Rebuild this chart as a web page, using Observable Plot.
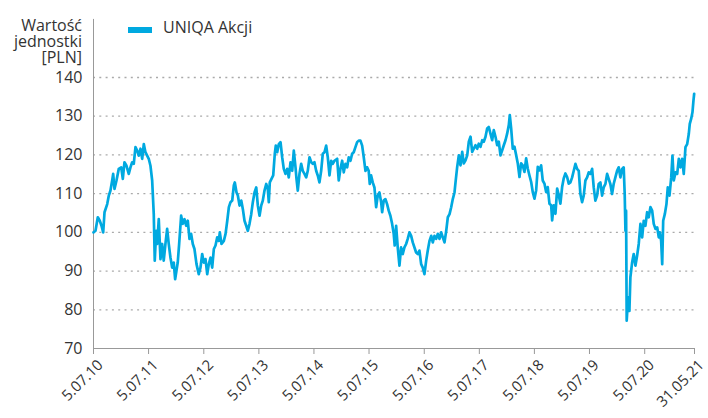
<!DOCTYPE html>
<html><head><meta charset="utf-8">
<script src="https://cdn.jsdelivr.net/npm/d3@7"></script>
<script src="https://cdn.jsdelivr.net/npm/@observablehq/plot@0.6"></script>
<style>
body{margin:0;background:#fff;font-family:"Open Sans",sans-serif;}
#wrap{position:relative;width:708px;height:418px;overflow:hidden;}
#ytitle{position:absolute;right:626px;top:17px;text-align:right;font-size:16px;line-height:16px;color:#333;white-space:nowrap;}
#legsw{position:absolute;left:128px;top:27px;width:24px;height:6px;background:#00a9e0;}
#legtx{position:absolute;left:163px;top:19px;font-size:16px;line-height:16px;color:#333;white-space:nowrap;}
</style></head><body>
<div id="wrap"><div id="chart"></div><div id="ytitle"></div><div id="legsw"></div><div id="legtx"></div></div>
<script>
const seriesName = "UNIQA Akcji";
const yTitleLines = ["Wartość", "jednostki", "[PLN]"];
const lineColor = "#00a9e0";

// decimal years
const years = [
2010.507,2010.543,2010.585,2010.621,2010.652,2010.683,2010.707,2010.756,2010.785,2010.815,
2010.846,2010.864,2010.888,2010.924,2010.966,2011.010,2011.039,2011.069,2011.106,2011.147,
2011.178,2011.209,2011.238,2011.269,2011.300,2011.329,2011.360,2011.391,2011.420,2011.450,
2011.481,2011.510,2011.541,2011.572,2011.601,2011.619,2011.645,2011.663,2011.692,2011.723,
2011.753,2011.782,2011.813,2011.844,2011.873,2011.904,2011.935,2011.964,2011.989,2012.013,
2012.036,2012.062,2012.098,2012.127,2012.158,2012.189,2012.218,2012.249,2012.279,2012.309,
2012.339,2012.376,2012.417,2012.448,2012.479,2012.508,2012.539,2012.570,2012.599,2012.630,
2012.660,2012.690,2012.720,2012.751,2012.780,2012.798,2012.829,2012.871,2012.902,2012.933,
2012.962,2012.992,2013.023,2013.052,2013.070,2013.101,2013.125,2013.156,2013.187,2013.216,
2013.246,2013.277,2013.306,2013.337,2013.368,2013.397,2013.428,2013.459,2013.488,2013.519,
2013.549,2013.578,2013.609,2013.640,2013.669,2013.687,2013.705,2013.736,2013.767,2013.796,
2013.814,2013.840,2013.869,2013.900,2013.930,2013.959,2013.990,2014.021,2014.050,2014.081,
2014.112,2014.141,2014.172,2014.190,2014.213,2014.244,2014.275,2014.304,2014.335,2014.366,
2014.395,2014.426,2014.457,2014.486,2014.516,2014.547,2014.576,2014.607,2014.638,2014.667,
2014.698,2014.729,2014.758,2014.789,2014.819,2014.848,2014.879,2014.928,2014.957,2014.988,
2015.019,2015.048,2015.079,2015.110,2015.139,2015.170,2015.200,2015.229,2015.260,2015.291,
2015.320,2015.351,2015.382,2015.411,2015.442,2015.472,2015.501,2015.520,2015.545,2015.574,
2015.605,2015.636,2015.665,2015.696,2015.727,2015.745,2015.774,2015.805,2015.835,2015.864,
2015.895,2015.926,2015.955,2015.973,2015.999,2016.028,2016.059,2016.089,2016.118,2016.149,
2016.180,2016.209,2016.240,2016.271,2016.300,2016.331,2016.361,2016.391,2016.421,2016.452,
2016.481,2016.512,2016.543,2016.572,2016.603,2016.634,2016.663,2016.693,2016.724,2016.753,
2016.784,2016.815,2016.844,2016.875,2016.906,2016.935,2016.966,2016.996,2017.025,2017.056,
2017.075,2017.105,2017.134,2017.165,2017.196,2017.225,2017.256,2017.287,2017.316,2017.347,
2017.377,2017.406,2017.437,2017.468,2017.497,2017.528,2017.559,2017.588,2017.619,2017.649,
2017.679,2017.709,2017.740,2017.769,2017.800,2017.831,2017.860,2017.891,2017.922,2017.951,
2017.982,2018.012,2018.042,2018.060,2018.085,2018.114,2018.145,2018.176,2018.205,2018.236,
2018.266,2018.295,2018.326,2018.357,2018.386,2018.417,2018.448,2018.477,2018.508,2018.539,
2018.568,2018.598,2018.629,2018.658,2018.689,2018.720,2018.749,2018.780,2018.811,2018.829,
2018.858,2018.889,2018.920,2018.949,2018.979,2019.010,2019.039,2019.070,2019.101,2019.130,
2019.161,2019.192,2019.221,2019.252,2019.282,2019.312,2019.342,2019.373,2019.402,2019.433,
2019.464,2019.493,2019.524,2019.555,2019.584,2019.614,2019.645,2019.674,2019.705,2019.736,
2019.765,2019.796,2019.827,2019.856,2019.886,2019.917,2019.946,2019.977,2020.008,2020.037,
2020.068,2020.099,2020.128,2020.146,2020.159,2020.171,2020.182,2020.208,2020.231,2020.249,
2020.280,2020.309,2020.340,2020.371,2020.400,2020.431,2020.462,2020.491,2020.521,2020.552,
2020.581,2020.612,2020.643,2020.672,2020.703,2020.734,2020.763,2020.781,2020.806,2020.825,
2020.843,2020.872,2020.902,2020.926,2020.957,2020.988,2021.011,2021.035,2021.066,2021.097,
2021.126,2021.156,2021.187,2021.216,2021.247,2021.278,2021.307,2021.325,2021.350,2021.374,
2021.392,2021.405
];

const values = [
100,100.4,103.9,103,101.7,100,105.2,107.3,109.5,110.8,
113.4,115.1,111.2,113.4,116.4,116.8,113.8,118.1,117.2,115.1,
116.8,118.1,117.7,122,121.1,119.8,121.6,119,122.8,120.7,
119.8,119,117.2,113.4,104.7,92.7,100.4,97,103.4,93.1,
97,92.7,97,100.9,97,93.5,90.9,92.2,87.9,90.1,
92.2,97,104.3,102.2,103.4,101.7,103,98.3,99.6,97,
95.7,91.8,89.2,90.9,94.4,92.2,93.1,89.2,91.8,93.5,
90.9,95.7,96.6,98.7,97.8,100,97,97.8,99.6,103,
106.5,107.8,108.2,112.1,112.9,110.3,109.5,106.9,108.2,106,
103,101.7,100.4,102.2,104.7,107.8,110.3,111.6,106.9,104.3,
106.9,108.2,110.8,112.5,111.2,107.8,112.9,113.8,114.7,120.3,
122.4,120.7,122.8,123.3,119.4,116.4,115.1,116.4,114.2,118.1,
115.9,121.1,116.8,113.8,110.8,115.1,117.7,115.9,115.1,114.2,
115.9,119.4,118.1,117.7,118.1,115.9,114.7,112.9,115.9,120.3,
120.7,122.4,119.4,114.7,118.5,117.7,118.5,119,113.4,116.4,
118.5,115.5,117.7,116.8,119.4,118.5,120.3,120.7,122,123.3,
123.7,123.7,122.4,119.4,115.9,116.8,115.9,112.5,114.7,112.9,
111.6,106.5,109.5,110.3,107.8,105.2,108.2,108.6,107.3,105.6,
104.3,102.2,99.6,96.6,101.7,96.1,91.4,96.1,94.4,96.1,
97,98.3,100,99.1,97.4,96.1,94.8,94.4,95.3,91.8,
90.9,89.2,92.7,95.3,97.8,99.1,97.4,99.1,98.3,99.6,
98.3,100,98.7,97.4,100.4,103.9,104.7,106.5,108.6,110.3,
113,116.9,119.9,117.3,120.8,117.8,118.6,119.9,123.4,124.7,
120.8,121.6,122.5,121.6,122.9,122.1,123.8,123.4,124.7,126.8,
127.2,125.5,123.8,126.4,124.7,122.5,123.4,119.9,121.2,122.5,
123.8,125.5,127.7,130.3,126.8,121.6,122.1,119.9,117.8,114.3,
117.8,117.3,115.6,119.1,116.5,114.7,113,110.4,108.7,110.9,
116.9,116,117.3,113.4,112.6,110.4,111.7,107.4,107,103.1,
107,104.8,111.3,109.6,107.4,111.7,113.9,115.2,114.3,112.6,
112.9,114.2,115.9,117.7,116.4,115.9,109.9,107.8,109.5,113.4,
114.2,115.5,115.1,116.4,111.6,108.2,109.5,112.5,112.9,109.5,
111.6,112.5,115.1,113.8,112.5,109.9,112.5,114.2,115.9,116.8,
114.2,116.4,116.8,109.9,100.4,105.6,77.2,83.2,79.7,88.4,
92.2,94.4,91.4,94,97,102.2,98.7,103,101.7,105.2,
103.9,106.5,105.6,102.2,100.9,101.3,98.7,100,97.8,91.8,
103,104.7,107.3,111.6,109.5,114.2,119.8,113.4,115.5,115.1,
119,116.8,119,115.1,122,122.8,125.4,128,129.3,131,
134,135.8
];

const tickDates = ["2010-07-05","2011-07-05","2012-07-05","2013-07-05","2014-07-05","2015-07-05",
  "2016-07-05","2017-07-05","2018-07-05","2019-07-05","2020-07-05","2021-05-31"];
const tickLabels = ["5.07.10","5.07.11","5.07.12","5.07.13","5.07.14","5.07.15",
  "5.07.16","5.07.17","5.07.18","5.07.19","5.07.20","31.05.21"];
const yTicks = [70, 80, 90, 100, 110, 120, 130, 140];

function fromYear(y) {
  const yr = Math.floor(y);
  const s = Date.UTC(yr, 0, 1), e = Date.UTC(yr + 1, 0, 1);
  return new Date(s + (y - yr) * (e - s));
}

const data = years.map((y, i) => ({date: fromYear(y), value: values[i]}));
const ticks = tickDates.map(d => new Date(d));
const labelMap = new Map(ticks.map((d, i) => [+d, tickLabels[i]]));

const chart = Plot.plot({
  width: 708, height: 418,
  marginLeft: 93, marginRight: 14, marginTop: 77, marginBottom: 70,
  style: {fontFamily: '"Open Sans", sans-serif', fontSize: "16px", color: "#333", background: "#fff", overflow: "visible"},
  x: {type: "utc", domain: [ticks[0], ticks[ticks.length - 1]]},
  y: {domain: [70, 140]},
  marks: [
    Plot.ruleY(yTicks.slice(1), {stroke: "#aaa", strokeDasharray: "2,4.3", strokeWidth: 1.3}),
    Plot.axisY({ticks: yTicks, tickSize: 0, tickPadding: 11, label: null, fontSize: 16, tickFormat: d => String(d)}),
    Plot.axisX({ticks, tickSize: 6, tickFormat: () => "", stroke: "#999", label: null}),
    Plot.axisX({ticks, tickSize: 0, tickPadding: 14, tickRotate: -45, dx: 7, tickFormat: d => labelMap.get(+d), label: null, fontSize: 15}),
    Plot.ruleY([70], {stroke: "#999"}),
    Plot.ruleX([ticks[0]], {y1: 70, y2: 155, stroke: "#999"}),
    Plot.lineY(data, {x: "date", y: "value", stroke: lineColor, strokeWidth: 2.7})
  ]
});
document.getElementById("chart").appendChild(chart);
document.getElementById("ytitle").innerHTML = yTitleLines.join("<br>");
document.getElementById("legtx").textContent = seriesName;
document.getElementById("legsw").style.background = lineColor;
</script>
</body></html>
